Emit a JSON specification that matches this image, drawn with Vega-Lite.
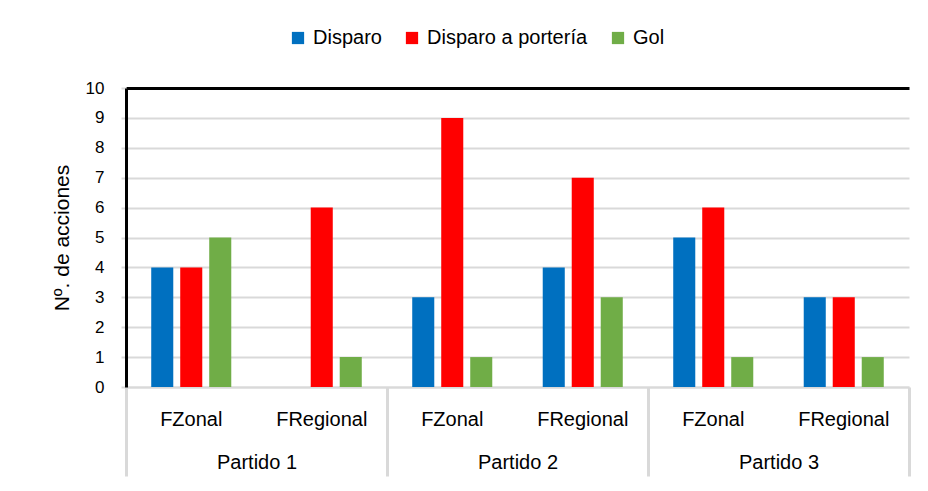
{
  "$schema": "https://vega.github.io/schema/vega-lite/v6.json",
  "width": 783,
  "height": 299,
  "autosize": "none",
  "padding": {"left": 126, "top": 88, "right": 19, "bottom": 104},
  "background": "white",
  "config": {
    "font": "Liberation Sans",
    "view": {"stroke": null},
    "axis": {"labelColor": "black", "titleColor": "black", "labelFont": "Liberation Sans", "titleFont": "Liberation Sans"},
    "legend": {"labelFont": "Liberation Sans"}
  },
  "datasets": {
    "acciones": [
      {"partido": "Partido 1", "equipo": "FZonal", "grupo": "Partido 1|FZonal", "accion": "Disparo", "n": 4},
      {"partido": "Partido 1", "equipo": "FZonal", "grupo": "Partido 1|FZonal", "accion": "Disparo a portería", "n": 4},
      {"partido": "Partido 1", "equipo": "FZonal", "grupo": "Partido 1|FZonal", "accion": "Gol", "n": 5},
      {"partido": "Partido 1", "equipo": "FRegional", "grupo": "Partido 1|FRegional", "accion": "Disparo", "n": 0},
      {"partido": "Partido 1", "equipo": "FRegional", "grupo": "Partido 1|FRegional", "accion": "Disparo a portería", "n": 6},
      {"partido": "Partido 1", "equipo": "FRegional", "grupo": "Partido 1|FRegional", "accion": "Gol", "n": 1},
      {"partido": "Partido 2", "equipo": "FZonal", "grupo": "Partido 2|FZonal", "accion": "Disparo", "n": 3},
      {"partido": "Partido 2", "equipo": "FZonal", "grupo": "Partido 2|FZonal", "accion": "Disparo a portería", "n": 9},
      {"partido": "Partido 2", "equipo": "FZonal", "grupo": "Partido 2|FZonal", "accion": "Gol", "n": 1},
      {"partido": "Partido 2", "equipo": "FRegional", "grupo": "Partido 2|FRegional", "accion": "Disparo", "n": 4},
      {"partido": "Partido 2", "equipo": "FRegional", "grupo": "Partido 2|FRegional", "accion": "Disparo a portería", "n": 7},
      {"partido": "Partido 2", "equipo": "FRegional", "grupo": "Partido 2|FRegional", "accion": "Gol", "n": 3},
      {"partido": "Partido 3", "equipo": "FZonal", "grupo": "Partido 3|FZonal", "accion": "Disparo", "n": 5},
      {"partido": "Partido 3", "equipo": "FZonal", "grupo": "Partido 3|FZonal", "accion": "Disparo a portería", "n": 6},
      {"partido": "Partido 3", "equipo": "FZonal", "grupo": "Partido 3|FZonal", "accion": "Gol", "n": 1},
      {"partido": "Partido 3", "equipo": "FRegional", "grupo": "Partido 3|FRegional", "accion": "Disparo", "n": 3},
      {"partido": "Partido 3", "equipo": "FRegional", "grupo": "Partido 3|FRegional", "accion": "Disparo a portería", "n": 3},
      {"partido": "Partido 3", "equipo": "FRegional", "grupo": "Partido 3|FRegional", "accion": "Gol", "n": 1}
    ]
  },
  "layer": [
    {
      "data": {"name": "acciones"},
      "mark": {"type": "bar"},
      "encoding": {
        "x": {
          "field": "grupo",
          "type": "nominal",
          "sort": null,
          "scale": {"paddingInner": 0, "paddingOuter": 0},
          "axis": {
            "orient": "bottom",
            "title": null,
            "labelExpr": "split(datum.label, '|')[1]",
            "labelAngle": 0,
            "labelFontSize": 20,
            "labelPadding": 22,
            "ticks": false,
            "grid": false,
            "domainColor": "#d9d9d9",
            "domainWidth": 2
          }
        },
        "xOffset": {
          "field": "accion",
          "type": "nominal",
          "sort": ["Disparo", "Disparo a portería", "Gol"],
          "scale": {"paddingInner": 0.24, "paddingOuter": 0.87}
        },
        "y": {
          "field": "n",
          "type": "quantitative",
          "scale": {"domain": [0, 10], "nice": false},
          "axis": {
            "title": "Nº. de acciones",
            "titleFontSize": 21,
            "titleFontWeight": "normal",
            "titlePadding": 13,
            "values": [0, 1, 2, 3, 4, 5, 6, 7, 8, 9, 10],
            "labelOverlap": false,
            "labelFontSize": 17,
            "labelPadding": 17,
            "tickSize": 5,
            "tickColor": "#d9d9d9",
            "tickWidth": 2,
            "domainColor": "black",
            "domainWidth": 3,
            "gridColor": {"condition": {"test": "datum.value === 10", "value": "black"}, "value": "#d9d9d9"},
            "gridWidth": {"condition": {"test": "datum.value === 10", "value": 3}, "value": 2}
          }
        },
        "color": {
          "field": "accion",
          "type": "nominal",
          "scale": {
            "domain": ["Disparo", "Disparo a portería", "Gol"],
            "range": ["#0070C0", "#FF0000", "#70AD47"]
          },
          "legend": {
            "orient": "none",
            "direction": "horizontal",
            "legendX": 162,
            "legendY": -60,
            "title": null,
            "padding": 0,
            "symbolType": "square",
            "symbolSize": 150,
            "symbolStrokeWidth": 0,
            "symbolOpacity": 1,
            "labelFontSize": 20,
            "labelLimit": 400,
            "labelColor": "black",
            "labelOffset": 5,
            "columnPadding": 20
          }
        }
      }
    },
    {
      "mark": {"type": "rule", "color": "black", "strokeWidth": 3},
      "encoding": {
        "x": {
          "datum": "Partido 3",
          "type": "nominal",
          "bandPosition": 1,
          "scale": {"domain": ["Partido 1", "Partido 2", "Partido 3"], "paddingInner": 0, "paddingOuter": 0},
          "axis": {
            "orient": "bottom",
            "title": null,
            "labelAngle": 0,
            "labelFontSize": 20,
            "tickBand": "extent",
            "tickSize": 89,
            "tickColor": "#d9d9d9",
            "tickWidth": 3,
            "labelPadding": -24,
            "domain": false,
            "grid": false
          }
        }
      }
    }
  ],
  "resolve": {"scale": {"x": "independent"}, "axis": {"x": "independent"}}
}
